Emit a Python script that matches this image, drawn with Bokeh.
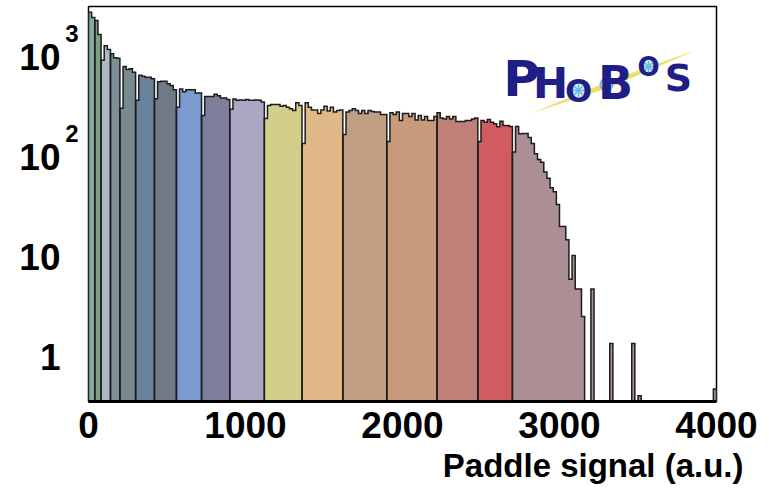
import numpy as np
from bokeh.plotting import figure
from bokeh.models import Range1d, Label, FixedTicker, LogAxis, Title
from bokeh.embed import file_html
from bokeh.resources import INLINE

# ---------------------------------------------------------------------------
# Paddle signal distribution, 20 a.u. bins from 0 to 4000, split into
# centrality classes (each class drawn in its own colour).
# ---------------------------------------------------------------------------
bin_width = 20
n_bins = 200

counts = [
    2050, 1820, 1700, 1230, 680, 950, 870, 790, 720, 710,      # 0-9
    225, 590, 550, 560, 515, 270, 480, 470, 460, 460,          # 10-19
    445, 280, 415, 420, 420, 395, 380, 345, 230, 350,          # 20-29
    330, 345, 345, 345, 320, 320, 190, 295, 295, 295,          # 30-39
    310, 300, 285, 285, 275, 220, 278, 270, 272, 270,          # 40-49
    275, 270, 270, 272, 270, 260, 178, 240, 245, 245,          # 50-59
    245, 236, 240, 230, 222, 214, 255, 240, 100, 255,          # 60-69
    230, 216, 216, 200, 216, 236, 211, 230, 206, 214,          # 70-79
    216, 123, 206, 214, 222, 214, 199, 214, 199, 214,          # 80-89
    209, 206, 206, 195, 195, 105, 203, 195, 206, 170,          # 90-99
    199, 200, 186, 199, 172, 191, 172, 186, 170, 170,          # 100-109
    186, 203, 180, 176, 186, 176, 186, 166, 166, 166,          # 110-119
    170, 170, 176, 180, 105, 170, 163, 174, 163, 158,          # 120-129
    147, 167, 151, 151, 148, 82, 148, 125, 126, 126,           # 130-139
    115, 100, 79, 69, 65, 52, 45, 36, 33, 24.5,                # 140-149
    14.8, 14.8, 10.9, 4.4, 7.6, 3.5, 3.5, 1.86, 0, 0,          # 150-159
    3.5, 0, 0, 0, 0, 0, 1.0, 0, 0, 0,                          # 160-169
    0, 0, 0, 1.0, 0, 0.3, 0, 0, 0, 0,                          # 170-179
    0, 0, 0, 0, 0, 0, 0, 0, 0, 0,                              # 180-189
    0, 0, 0, 0, 0, 0, 0, 0, 0, 0.35,                           # 190-199
]

# first bin of each centrality class
class_start_bins = [0, 2, 4, 7, 10, 15, 21, 28, 36, 45, 56, 68, 81, 95, 111, 124, 135]
class_colors = [
    "#84ac98", "#7d9e86", "#abbac6", "#7e8e97", "#778b8e", "#67829a",
    "#6f7a86", "#7b9ad0", "#7f7f9d", "#aaa7c2", "#d3cf8a", "#e0b888",
    "#c09e82", "#c89a7c", "#c08078", "#d05c60", "#ab8f94",
]

x_ticks = [0, 1000, 2000, 3000, 4000]
y_ticks = [1, 10, 100, 1000]
y_tick_base = ["1", "10", "10", "10"]
y_tick_exp = ["", "", "2", "3"]
x_title = "Paddle signal (a.u.)"

x_min, x_max = 0, 4000
y_min, y_max = 0.263, 2344

# frame placement on the page (pixels)
FRAME_LEFT, FRAME_W = 88, 628
FRAME_TOP, FRAME_H = 6, 395
PAGE_W, PAGE_H = 769, 491
PX_PER_DECADE = FRAME_H / (np.log10(y_max) - np.log10(y_min))

LABEL_FONT = "Liberation Sans"

p = figure(
    width=PAGE_W, height=PAGE_H,
    x_range=Range1d(x_min, x_max), y_range=Range1d(y_min, y_max),
    y_axis_type="log",
    output_backend="svg", toolbar_location=None,
    min_border_left=FRAME_LEFT, min_border_right=PAGE_W - FRAME_LEFT - FRAME_W,
    min_border_top=FRAME_TOP, min_border_bottom=PAGE_H - FRAME_TOP - FRAME_H,
)
p.background_fill_color = "white"
p.border_fill_color = "white"
p.grid.visible = False
p.outline_line_color = "black"
p.outline_line_width = 1.5

# ---------------------------------------------------------------------------
# histogram: one filled step polygon per run of non-empty bins in a class
# ---------------------------------------------------------------------------
edges = np.arange(n_bins + 1) * bin_width
class_bounds = class_start_bins + [n_bins]
y_floor = 1e-3

poly_xs, poly_ys, poly_colors = [], [], []
for c in range(len(class_start_bins)):
    s, e = class_bounds[c], class_bounds[c + 1]
    run = []
    for i in range(s, e + 1):
        if i < e and counts[i] > 0:
            run.append(i)
        elif run:
            xs = [float(edges[run[0]])]
            ys = [y_floor]
            for k in run:
                xs += [float(edges[k]), float(edges[k + 1])]
                ys += [counts[k], counts[k]]
            xs.append(float(edges[run[-1] + 1]))
            ys.append(y_floor)
            poly_xs.append(xs)
            poly_ys.append(ys)
            poly_colors.append(class_colors[c])
            run = []

p.patches(poly_xs, poly_ys, fill_color=poly_colors, line_color=None)
p.multi_line(poly_xs, poly_ys, line_color="#1c1c1c", line_width=1.5,
             line_join="miter")

# ---------------------------------------------------------------------------
# axes
# ---------------------------------------------------------------------------
xa = p.xaxis[0]
xa.ticker = FixedTicker(ticks=x_ticks)
xa.major_tick_line_color = None
xa.minor_tick_line_color = None
xa.axis_line_color = "black"
xa.axis_line_width = 3
xa.major_label_text_font = LABEL_FONT
xa.major_label_text_font_style = "bold"
xa.major_label_text_font_size = "37px"
xa.major_label_text_color = "black"
xa.major_label_standoff = 4

p.add_layout(Title(text=x_title, align="right", offset=-27, standoff=8,
                   text_font=LABEL_FONT, text_font_style="bold",
                   text_font_size="33px", text_color="black"), "below")

# y labels sit a little below their decade; exponents raised above the base
base_drop = 14 / PX_PER_DECADE
exp_drop = -10 / PX_PER_DECADE
base_pos = [float(10 ** (np.log10(v) - base_drop)) for v in y_ticks]
exp_pos = [float(10 ** (np.log10(v) - exp_drop)) for v, e in zip(y_ticks, y_tick_exp) if e]


def style_y_axis(ax, font_size, standoff):
    ax.axis_line_color = None
    ax.major_tick_line_color = None
    ax.minor_tick_line_color = None
    ax.major_label_text_font = LABEL_FONT
    ax.major_label_text_font_style = "bold"
    ax.major_label_text_font_size = font_size
    ax.major_label_text_color = "black"
    ax.major_label_standoff = standoff


# exponent labels, right next to the frame
ya_exp = p.yaxis[0]
ya_exp.ticker = FixedTicker(ticks=exp_pos)
ya_exp.major_label_overrides = {v: e for v, e in zip(exp_pos, [e for e in y_tick_exp if e])}
style_y_axis(ya_exp, "24px", 4)

# mantissa labels, further left
ya_base = LogAxis(ticker=FixedTicker(ticks=base_pos),
                  major_label_overrides={v: b for v, b in zip(base_pos, y_tick_base)})
style_y_axis(ya_base, "37px", -4)
p.add_layout(ya_base, "left")

# ---------------------------------------------------------------------------
# experiment logo in the upper right corner
# ---------------------------------------------------------------------------
def px_to_x(px):
    return x_min + (px - FRAME_LEFT) / FRAME_W * (x_max - x_min)


def py_to_y(py):
    lo, hi = np.log10(y_min), np.log10(y_max)
    return 10 ** (lo + (FRAME_TOP + FRAME_H - py) / FRAME_H * (hi - lo))


streak_px = [(530, 113), (610, 80), (697, 49), (612, 86)]
p.patch([px_to_x(a) for a, b in streak_px], [py_to_y(b) for a, b in streak_px],
        fill_color="#ebdd5a", line_color=None, fill_alpha=0.9)

wheels_px = [(578, 90), (648, 66), (606, 84)]
p.scatter([px_to_x(a) for a, b in wheels_px], [py_to_y(b) for a, b in wheels_px],
          size=[19, 17, 12], marker="circle", fill_color="#d4ecf8",
          line_color="#6ab8e2", line_width=2)
p.scatter([px_to_x(a) for a, b in wheels_px], [py_to_y(b) for a, b in wheels_px],
          size=[12, 11, 8], marker="asterisk", line_color="#6ab8e2", line_width=1.5)

logo_letters = ["P", "H", "O", "B", "O", "S"]
logo_pos_px = [(521, 78), (550, 83), (578, 90), (615, 82), (648, 66), (678, 77)]
logo_size = ["50px", "42px", "32px", "46px", "26px", "38px"]
for ch, (a, b), fs in zip(logo_letters, logo_pos_px, logo_size):
    p.add_layout(Label(x=px_to_x(a), y=py_to_y(b), text=ch,
                       text_align="center", text_baseline="middle",
                       text_font="DejaVu Sans", text_font_style="bold",
                       text_font_size=fs, text_color="#1e1e86"))

with open("out.html", "w") as f:
    f.write(file_html(p, INLINE))
